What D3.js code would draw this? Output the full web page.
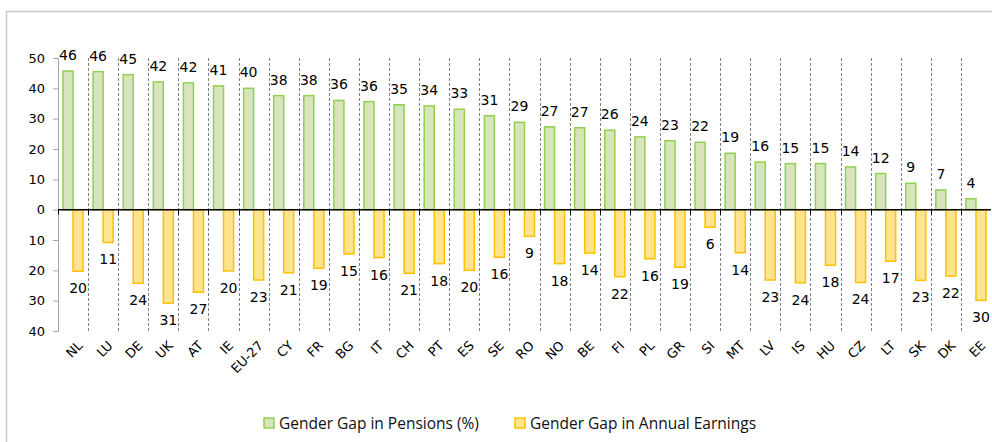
<!DOCTYPE html>
<html>
<head>
<meta charset="utf-8">
<script src="https://cdn.jsdelivr.net/npm/d3@7"></script>
<style>
  body { margin: 0; background: #fff; }
  svg { display: block; }
</style>
</head>
<body>
<div id="chart"></div>
<script>
// data
var countries = ["NL", "LU", "DE", "UK", "AT", "IE", "EU-27", "CY", "FR", "BG", "IT", "CH", "PT", "ES", "SE",
                 "RO", "NO", "BE", "FI", "PL", "GR", "SI", "MT", "LV", "IS", "HU", "CZ", "LT", "SK", "DK", "EE"];
var pensionsGap = [45.7, 45.5, 44.5, 42.1, 41.8, 40.8, 40.0, 37.6, 37.6, 36.0, 35.6, 34.6, 34.2, 33.1, 31.0,
                   28.8, 27.3, 27.0, 26.2, 24.0, 22.7, 22.2, 18.6, 15.7, 15.2, 15.2, 14.1, 11.9, 8.7, 6.5, 3.6];
var earningsGap = [20.3, 10.8, 24.3, 30.8, 27.2, 20.2, 23.2, 20.8, 19.3, 14.6, 15.8, 21.0, 17.8, 20.0, 15.7,
                   8.8, 17.8, 14.3, 22.1, 16.2, 19.0, 5.8, 14.2, 23.2, 24.1, 18.3, 24.0, 17.0, 23.3, 21.9, 29.9];
var yTicks = [50, 40, 30, 20, 10, 0, -10, -20, -30, -40];
var seriesNames = ["Gender Gap in Pensions (%)", "Gender Gap in Annual Earnings"];

var W = 992, H = 442;
var plotLeft = 58, plotRight = 991, plotTop = 58, plotBottom = 331;

var svg = d3.select("#chart")
  .append("svg")
    .attr("width", W)
    .attr("height", H);

// outer frame (only top and left edge visible)
svg.append("rect")
  .attr("x", 6.5).attr("y", 11.5)
  .attr("width", 1100).attr("height", 600)
  .attr("fill", "none")
  .attr("stroke", "#c8c8c8")
  .attr("stroke-width", 1.5);

var x = d3.scaleBand()
  .domain(countries)
  .range([plotLeft, plotRight]);

var y = d3.scaleLinear()
  .domain([-40, 50])
  .range([plotBottom, plotTop]);

var bw = x.bandwidth();
var barW = bw / 3;

// dashed dividers between categories
svg.append("g")
  .selectAll("line")
  .data(countries.slice(1))
  .enter().append("line")
    .attr("x1", function(d) { return Math.round(x(d)) + 0.5; })
    .attr("x2", function(d) { return Math.round(x(d)) + 0.5; })
    .attr("y1", y(50))
    .attr("y2", y(-40))
    .attr("stroke", "#808080")
    .attr("stroke-width", 1)
    .attr("stroke-dasharray", "3,2");

// y axis
var yAxis = svg.append("g")
  .attr("transform", "translate(" + plotLeft + ",0)")
  .call(d3.axisLeft(y)
    .tickValues(yTicks)
    .tickSize(5)
    .tickPadding(8)
    .tickFormat(function(d) { return Math.abs(d); }));
yAxis.select(".domain").attr("stroke", "#a6a6a6");
yAxis.selectAll(".tick line").attr("stroke", "#a6a6a6");
yAxis.selectAll(".tick text")
  .attr("font-family", "DejaVu Sans")
  .attr("font-size", 13)
  .attr("fill", "#000");

// pension bars (green, upward)
svg.append("g")
  .selectAll("rect")
  .data(countries)
  .enter().append("rect")
    .attr("x", function(d) { return x(d) + barW / 2; })
    .attr("y", function(d, i) { return y(pensionsGap[i]); })
    .attr("width", barW)
    .attr("height", function(d, i) { return y(0) - y(pensionsGap[i]); })
    .attr("fill", "#d8e4bc")
    .attr("stroke", "#92d050")
    .attr("stroke-width", 1.5);

// earnings bars (yellow, downward)
svg.append("g")
  .selectAll("rect")
  .data(countries)
  .enter().append("rect")
    .attr("x", function(d) { return x(d) + barW * 1.5; })
    .attr("y", y(0))
    .attr("width", barW)
    .attr("height", function(d, i) { return y(-earningsGap[i]) - y(0); })
    .attr("fill", "#ffe48f")
    .attr("stroke", "#ffc000")
    .attr("stroke-width", 1.5);

// zero axis with ticks at category edges
var xAxis = svg.append("g")
  .attr("transform", "translate(0," + y(0) + ")");
xAxis.append("line")
  .attr("x1", plotLeft).attr("x2", plotRight)
  .attr("stroke", "#000").attr("stroke-width", 1.5);
xAxis.selectAll("line.tk")
  .data(countries)
  .enter().append("line")
    .attr("class", "tk")
    .attr("x1", function(d) { return Math.round(x(d)) + 0.5; })
    .attr("x2", function(d) { return Math.round(x(d)) + 0.5; })
    .attr("y1", 0).attr("y2", 5)
    .attr("stroke", "#000");

// value labels
svg.append("g")
  .selectAll("text")
  .data(countries)
  .enter().append("text")
    .attr("x", function(d) { return x(d) + barW; })
    .attr("y", function(d, i) { return y(pensionsGap[i]) - 11; })
    .attr("text-anchor", "middle")
    .attr("font-family", "DejaVu Sans")
    .attr("font-size", 14)
    .text(function(d, i) { return Math.round(pensionsGap[i]); });

svg.append("g")
  .selectAll("text")
  .data(countries)
  .enter().append("text")
    .attr("x", function(d) { return x(d) + barW * 2; })
    .attr("y", function(d, i) { return y(-earningsGap[i]) + 22; })
    .attr("text-anchor", "middle")
    .attr("font-family", "DejaVu Sans")
    .attr("font-size", 14)
    .text(function(d, i) { return Math.round(earningsGap[i]); });

// category labels, rotated
svg.append("g")
  .selectAll("text")
  .data(countries)
  .enter().append("text")
    .attr("transform", function(d) {
      return "translate(" + (x(d) + bw / 2 + 4) + "," + (plotBottom + 9) + ") rotate(-45)";
    })
    .attr("text-anchor", "end")
    .attr("dy", "0.7em")
    .attr("font-family", "DejaVu Sans")
    .attr("font-size", 13)
    .text(function(d) { return d; });

// legend
var legendX = [264, 515];
var legendFill = ["#d8e4bc", "#ffe48f"];
var legendStroke = ["#92d050", "#ffc000"];
var legend = svg.append("g");
seriesNames.forEach(function(name, i) {
  legend.append("rect")
    .attr("x", legendX[i]).attr("y", 418)
    .attr("width", 10).attr("height", 10)
    .attr("fill", legendFill[i])
    .attr("stroke", legendStroke[i])
    .attr("stroke-width", 1.5);
  legend.append("text")
    .attr("x", legendX[i] + 15).attr("y", 429)
    .attr("font-family", "Open Sans")
    .attr("font-size", 15.5)
    .attr("fill", "#111")
    .text(name);
});
</script>
</body>
</html>
